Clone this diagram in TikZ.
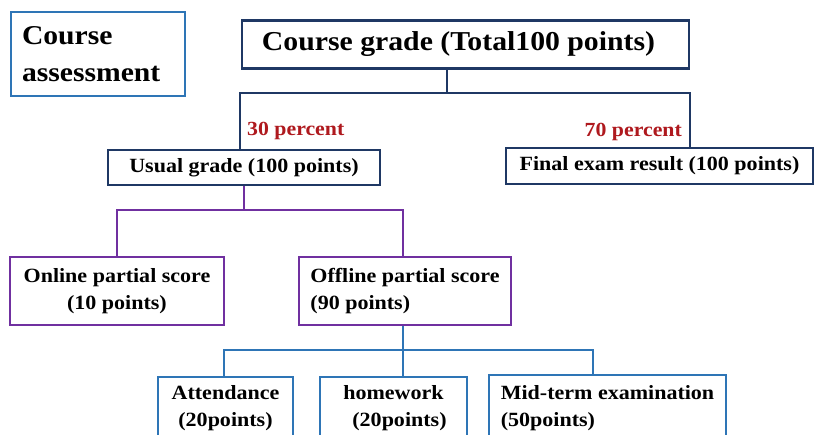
\documentclass[tikz,border=0pt]{standalone}
\usepackage{fontspec}
\setmainfont[FakeStretch=1.09]{Liberation Serif}
\definecolor{navy}{RGB}{31,56,100}
\definecolor{bluec}{RGB}{46,117,182}
\definecolor{purp}{RGB}{112,48,160}
\definecolor{redc}{RGB}{175,25,30}
\tikzset{
  box/.style={draw, line width=2.2pt, fill=white, inner xsep=0pt, inner ysep=0pt, font=\bfseries},
  navybox/.style={box, draw=navy},
  bluebox/.style={box, draw=bluec},
  purpbox/.style={box, draw=purp},
  txt19/.style={font=\fontsize{20.2}{27}\selectfont\bfseries},
  conn/.style={line width=2.2pt},
  pct/.style={text=redc, font=\fontsize{20}{22}\selectfont\bfseries, inner sep=0pt}
}
\begin{document}
\begin{tikzpicture}[x=1pt,y=-1pt]
\path[use as bounding box, clip] (0,0) rectangle (815,435);
\fill[white] (0,0) rectangle (815,435);
% coordinates for connector junctions
\coordinate (gj) at (447,93);
\coordinate (gL) at (240,93);
\coordinate (gR) at (690,93);
\coordinate (pj) at (244,210);
\coordinate (pL) at (117,210);
\coordinate (pR) at (403,210);
\coordinate (bj) at (403,350);
\coordinate (bL) at (224,350);
\coordinate (bR) at (593,350);
% connectors
\draw[conn, navy] (gj) -- (gj |- 0,68);
\draw[conn, navy] (gL |- 0,150) -- (gL) -- (gR) -- (gR |- 0,148);
\draw[conn, purp] (pj |- 0,185) -- (pj);
\draw[conn, purp] (pL |- 0,257) -- (pL) -- (pR) -- (pR |- 0,257);
\draw[conn, bluec] (bj |- 0,325) -- (bj |- 0,377);
\draw[conn, bluec] (bL |- 0,377) -- (bL) -- (bR) -- (bR |- 0,375);
% boxes
\node[bluebox, minimum width=174, minimum height=84, text width=152pt, align=left,
      font=\fontsize{27.2}{37}\selectfont\bfseries] (assess) at (98,54) {Course\\assessment};
\node[navybox, minimum width=447, minimum height=48,
      font=\fontsize{27.3}{30}\selectfont\bfseries] (grade) at (465.5,44.5) {Course grade (Total100 points)\hspace*{14pt}};
\node[navybox, minimum width=272, minimum height=35, txt19] (usual) at (244,167.5) {Usual grade (100 points)};
\node[navybox, minimum width=307, minimum height=36, txt19] (final) at (659.5,166) {Final exam result (100 points)};
\node[purpbox, minimum width=214, minimum height=68, txt19, align=center] (online) at (117,291) {Online partial score\\(10 points)};
\node[purpbox, minimum width=212, minimum height=68, txt19, align=left] (offline) at (405,291) {Offline partial score\\(90 points)};
\node[bluebox, minimum width=135, minimum height=63, txt19, align=center] (attend) at (225.5,408.5) {Attendance\\(20points)};
\node[bluebox, minimum width=147, minimum height=63, txt19, align=center] (homework) at (393.5,408.5) {homework\\\hspace*{12pt}(20points)};
\node[bluebox, minimum width=237, minimum height=66, txt19, align=left] (midterm) at (607.5,408) {Mid-term examination\\(50points)};
% labels
\node[pct, anchor=west] (p30) at (247,131) {30 percent};
\node[pct, anchor=east] (p70) at (682,132) {70 percent};
\end{tikzpicture}
\end{document}
